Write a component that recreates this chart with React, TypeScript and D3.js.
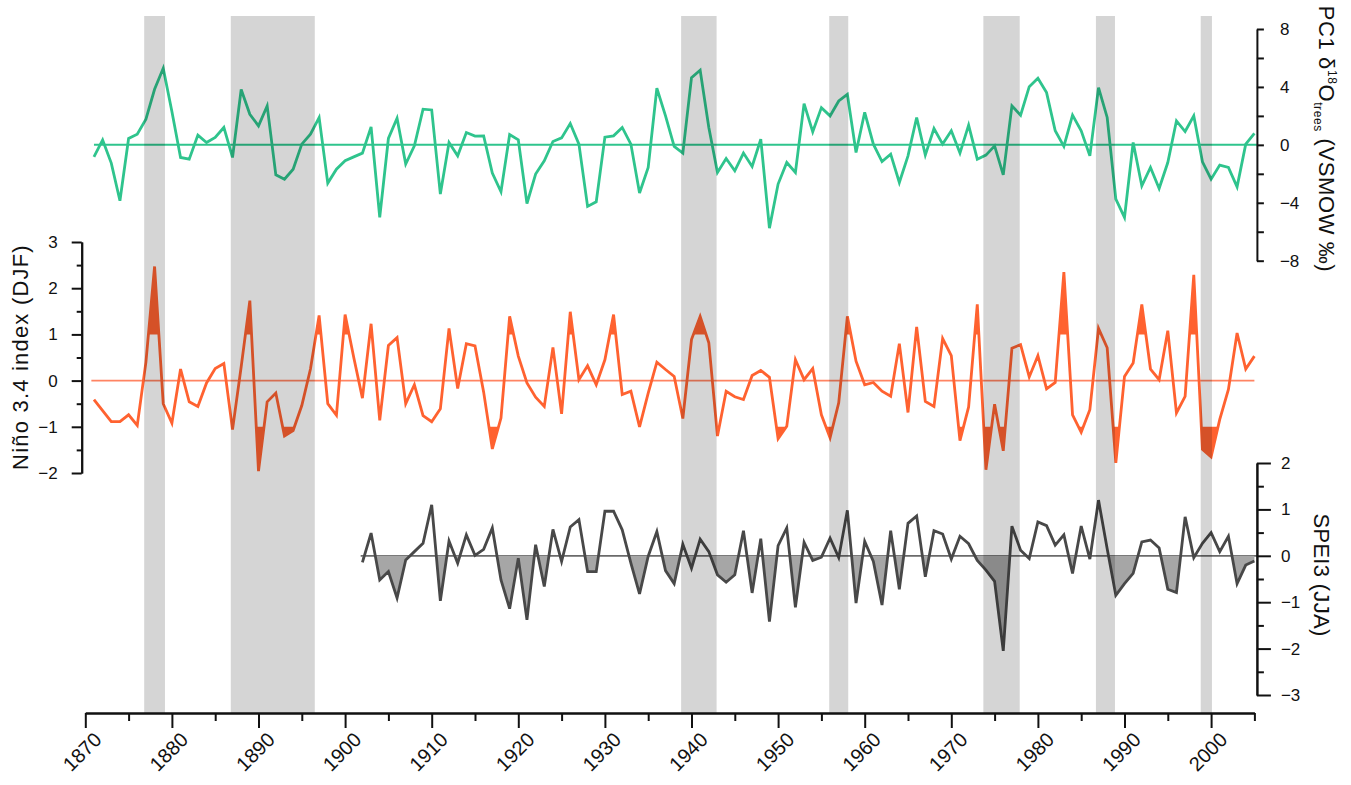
import * as d3 from "d3";
import React, { useEffect, useRef } from "react";

const W = 1351;
const H = 785;

// PC1 d18O trees, one value per year from 1871
const pc1Start = 1871;
const pc1Values = [
  -0.83, 0.34, -1.26, -3.86, 0.44, 0.74, 1.77, 3.84, 5.29, 2.3,
  -0.87, -0.99, 0.67, 0.16, 0.51, 1.2, -0.87, 3.82, 2.11, 1.31,
  2.69, -2.07, -2.37, -1.68, 0.05, 0.74, 1.89, -2.64, -1.68, -1.1,
  -0.83, -0.57, 1.24, -5.0, 0.44, 1.84, -1.33, -0.07, 2.46, 2.41,
  -3.4, 0.16, -0.76, 0.85, 0.6, 0.62, -1.95, -3.24, 0.71, 0.34,
  -4.05, -2.02, -1.1, 0.23, 0.48, 1.47, 0.05, -4.25, -3.93, 0.53,
  0.62, 1.2, 0.05, -3.33, -1.56, 3.91, 2.0, -0.11, -0.57, 4.64,
  5.15, 1.2, -1.91, -0.94, -1.79, -0.57, -1.49, 0.39, -5.75, -2.71,
  -1.22, -1.91, 2.85, 0.9, 2.57, 2.0, 3.03, 3.49, -0.53, 2.25,
  0.05, -1.15, -0.64, -2.6, -0.76, 1.89, -0.71, 1.13, 0.05, 0.97,
  -0.57, 1.36, -0.99, -0.71, -0.07, -2.07, 2.69, 2.05, 4.02, 4.6,
  3.61, 0.97, -0.11, 2.05, 0.97, -0.76, 3.95, 1.89, -3.75, -5.01,
  0.16, -2.83, -1.56, -3.01, -1.22, 1.66, 0.92, 2.0, -1.17, -2.37,
  -1.4, -1.56, -2.9, 0.05, 0.8,
];

// Nino 3.4 index (DJF), from 1871
const ninoStart = 1871;
const ninoValues = [
  -0.41, -0.65, -0.89, -0.89, -0.74, -0.97, 0.4, 2.47, -0.5, -0.92,
  0.25, -0.46, -0.56, -0.05, 0.26, 0.37, -1.06, 0.3, 1.73, -1.96,
  -0.46, -0.27, -1.2, -1.08, -0.54, 0.25, 1.41, -0.5, -0.75, 1.43,
  0.5, -0.38, 1.23, -0.86, 0.76, 0.93, -0.5, -0.09, -0.76, -0.89,
  -0.61, 1.13, -0.17, 0.8, 0.75, -0.25, -1.48, -0.81, 1.39, 0.53,
  -0.05, -0.36, -0.56, 0.72, -0.72, 1.49, 0.02, 0.32, -0.09, 0.45,
  1.43, -0.3, -0.23, -1.0, -0.27, 0.4, 0.24, 0.09, -0.82, 0.89,
  1.39, 0.82, -1.2, -0.23, -0.35, -0.41, 0.11, 0.22, 0.07, -1.26,
  -0.99, 0.45, 0.02, 0.26, -0.74, -1.24, -0.48, 1.39, 0.42, -0.09,
  -0.04, -0.23, -0.34, 0.8, -0.69, 1.16, -0.45, -0.56, 0.91, 0.54,
  -1.3, -0.57, 1.65, -1.93, -0.51, -1.52, 0.7, 0.78, 0.08, 0.54,
  -0.18, -0.04, 2.35, -0.74, -1.12, -0.63, 1.13, 0.71, -1.78, 0.09,
  0.38, 1.65, 0.25, 0.02, 1.08, -0.7, -0.34, 2.29, -1.49, -1.65,
  -0.84, -0.19, 1.03, 0.25, 0.53,
];

// SPEI3 (JJA), from 1902
const speiStart = 1902;
const speiValues = [
  -0.14, 0.49, -0.52, -0.34, -0.91, -0.09, 0.09, 0.27, 1.1, -0.97,
  0.32, -0.16, 0.45, 0.01, 0.14, 0.6, -0.52, -1.14, -0.05, -1.38,
  0.24, -0.66, 0.57, -0.12, 0.62, 0.78, -0.34, -0.34, 0.96, 0.96,
  0.56, -0.16, -0.82, -0.01, 0.52, -0.32, -0.6, 0.25, -0.27, 0.36,
  0.09, -0.41, -0.57, -0.41, 0.54, -0.8, 0.37, -1.42, 0.22, 0.6,
  -1.11, 0.29, -0.1, -0.03, 0.38, -0.04, 0.98, -1.02, 0.31, -0.12,
  -1.06, 0.54, -0.72, 0.7, 0.86, -0.45, 0.54, 0.47, -0.07, 0.42,
  0.26, -0.1, -0.31, -0.55, -2.05, 0.64, 0.12, -0.06, 0.73, 0.65,
  0.23, 0.45, -0.38, 0.64, -0.07, 1.2, 0.15, -0.85, -0.6, -0.38,
  0.3, 0.34, 0.17, -0.72, -0.79, 0.84, -0.04, 0.27, 0.5, 0.09,
  0.42, -0.6, -0.2, -0.11,
];

// shaded periods
const bandStarts = [1876.8, 1886.8, 1938.8, 1955.9, 1973.7, 1986.7, 1998.8];
const bandEnds = [1879.2, 1896.5, 1942.9, 1958.1, 1977.9, 1988.9, 2000.1];

const decadeTicks = [1870, 1880, 1890, 1900, 1910, 1920, 1930, 1940, 1950, 1960, 1970, 1980, 1990, 2000];
const halfDecadeTicks = [1875, 1885, 1895, 1905, 1915, 1925, 1935, 1945, 1955, 1965, 1975, 1985, 1995, 2005];
const pc1Ticks = [-8, -6, -4, -2, 0, 2, 4, 6, 8];
const ninoTicks = [-2, -1, 0, 1, 2, 3];
const ninoMinorTicks = [-1.5, -0.5, 0.5, 1.5, 2.5];
const speiTicks = [-3, -2, -1, 0, 1, 2];
const speiMinorTicks = [-2.5, -1.5, -0.5, 0.5, 1.5];

const green = "#2fc48d";
const orange = "#ff6230";
const darkGray = "#484848";
const FONT = "'Liberation Sans', Arial, sans-serif";

type Pt = [number, number];

// add the points where the series crosses a threshold, so fills start exactly there
function withCrossings(pts: Pt[], t: number): Pt[] {
  const out: Pt[] = [];
  pts.forEach((p, i) => {
    out.push(p);
    const q = pts[i + 1];
    if (q && (p[1] - t) * (q[1] - t) < 0) {
      out.push([p[0] + ((t - p[1]) / (q[1] - p[1])) * (q[0] - p[0]), t]);
    }
  });
  return out;
}

export default function App() {
  const chartRef = useRef<SVGSVGElement | null>(null);

  useEffect(() => {
    if (!chartRef.current) return;
    const svg = d3.select(chartRef.current);
    svg.selectAll("*").remove();

    const x = d3.scaleLinear().domain([1870, 2005]).range([85.3, 1254.4]);
    const yPc = d3.scaleLinear().domain([-8, 8]).range([260.7, 29]);
    const yNino = d3.scaleLinear().domain([-2, 3]).range([473, 242]);
    const ySpei = d3.scaleLinear().domain([-3, 2]).range([695, 463]);
    const axisY = 713;
    const rightX = x(2005) + 2.5;

    const pc1 = pc1Values.map((v, i) => [pc1Start + i, v] as Pt);
    const nino = ninoValues.map((v, i) => [ninoStart + i, v] as Pt);
    const spei = speiValues.map((v, i) => [speiStart + i, v] as Pt);

    // zero lines
    svg.append("line")
      .attr("x1", x(1871)).attr("x2", rightX).attr("y1", yPc(0)).attr("y2", yPc(0))
      .attr("stroke", green).attr("stroke-width", 2);
    svg.append("line")
      .attr("x1", x(1870.7)).attr("x2", x(2005)).attr("y1", yNino(0)).attr("y2", yNino(0))
      .attr("stroke", "#ff8463").attr("stroke-width", 1.8);
    svg.append("line")
      .attr("x1", x(1901.8)).attr("x2", rightX).attr("y1", ySpei(0)).attr("y2", ySpei(0))
      .attr("stroke", "#6a6a6a").attr("stroke-width", 1.8);

    // fills beyond the thresholds
    const highArea = (y: d3.ScaleLinear<number, number>, t: number) => d3.area<Pt>()
      .x(d => x(d[0])).y0(y(t)).y1(d => y(Math.max(d[1], t)));
    const lowArea = (y: d3.ScaleLinear<number, number>, t: number) => d3.area<Pt>()
      .x(d => x(d[0])).y0(y(t)).y1(d => y(Math.min(d[1], t)));
    svg.append("path").attr("d", highArea(yNino, 1)(withCrossings(nino, 1)) as string).attr("fill", orange);
    svg.append("path").attr("d", lowArea(yNino, -1)(withCrossings(nino, -1)) as string).attr("fill", orange);
    svg.append("path").attr("d", lowArea(ySpei, 0)(withCrossings(spei, 0)) as string).attr("fill", "#a6a6a6");

    // series lines
    const line = (y: d3.ScaleLinear<number, number>) => d3.line<Pt>()
      .x(d => x(d[0])).y(d => y(d[1]));
    svg.append("path").attr("d", line(yPc)(pc1) as string)
      .attr("fill", "none").attr("stroke", green).attr("stroke-width", 2.8);
    svg.append("path").attr("d", line(yNino)(nino) as string)
      .attr("fill", "none").attr("stroke", orange).attr("stroke-width", 2.8);
    svg.append("path").attr("d", line(ySpei)(spei) as string)
      .attr("fill", "none").attr("stroke", darkGray).attr("stroke-width", 2.8);

    // shaded periods, laid over the series
    svg.append("g").selectAll("rect")
      .data(bandStarts.map((s, i) => [s, bandEnds[i]]))
      .join("rect")
      .attr("x", d => x(d[0]))
      .attr("width", d => x(d[1]) - x(d[0]))
      .attr("y", 16)
      .attr("height", axisY - 16)
      .attr("fill", "#000")
      .attr("fill-opacity", 0.165);

    const styleAxis = (g: d3.Selection<SVGGElement, unknown, null, undefined>, size: number) => {
      g.attr("font-family", FONT).attr("font-size", size);
      g.selectAll("path").attr("stroke", "#111").attr("stroke-width", 2);
      g.selectAll("line").attr("stroke", "#111").attr("stroke-width", 2);
      g.selectAll("text").attr("fill", "#111");
    };

    // x axis
    const xMinor = svg.append("g").attr("transform", `translate(0,${axisY})`)
      .call(d3.axisBottom(x).tickValues(halfDecadeTicks).tickSize(8).tickSizeOuter(0).tickFormat(() => ""));
    styleAxis(xMinor, 20);
    const xMajor = svg.append("g").attr("transform", `translate(0,${axisY})`)
      .call(d3.axisBottom(x).tickValues(decadeTicks).tickSize(15).tickSizeOuter(0).tickFormat(d3.format("d")));
    styleAxis(xMajor, 20);
    xMajor.selectAll("text")
      .attr("text-anchor", "end")
      .attr("y", 0).attr("dy", 0)
      .attr("transform", "translate(17,28) rotate(-45)");

    // Nino axis (left)
    const nMinor = svg.append("g").attr("transform", `translate(81.7,0)`)
      .call(d3.axisLeft(yNino).tickValues(ninoMinorTicks).tickSize(5).tickSizeOuter(0).tickFormat(() => ""));
    styleAxis(nMinor, 17);
    const nMajor = svg.append("g").attr("transform", `translate(81.7,0)`)
      .call(d3.axisLeft(yNino).tickValues(ninoTicks).tickSize(10).tickSizeOuter(0).tickPadding(14).tickFormat(d3.format("d")));
    styleAxis(nMajor, 17);

    // PC1 axis (right, top)
    const pAxis = svg.append("g").attr("transform", `translate(${rightX},0)`)
      .call(d3.axisRight(yPc).tickValues(pc1Ticks).tickSize(7).tickSizeOuter(0).tickPadding(16)
        .tickFormat(d => (+d % 4 === 0 ? d3.format("d")(+d) : "")));
    styleAxis(pAxis, 17);

    // SPEI axis (right, bottom)
    const sMinor = svg.append("g").attr("transform", `translate(${rightX},0)`)
      .call(d3.axisRight(ySpei).tickValues(speiMinorTicks).tickSize(7).tickSizeOuter(0).tickFormat(() => ""));
    styleAxis(sMinor, 17);
    const sMajor = svg.append("g").attr("transform", `translate(${rightX},0)`)
      .call(d3.axisRight(ySpei).tickValues(speiTicks).tickSize(14).tickSizeOuter(0).tickPadding(10).tickFormat(d3.format("d")));
    styleAxis(sMajor, 17);

    // axis titles
    svg.append("text")
      .attr("transform", "translate(27.5,357) rotate(-90)")
      .attr("text-anchor", "middle")
      .attr("font-family", FONT).attr("font-size", 22).attr("letter-spacing", 1.2).attr("fill", "#111")
      .text("Niño 3.4 index (DJF)");

    svg.append("text")
      .attr("transform", "translate(1314,575) rotate(90)")
      .attr("text-anchor", "middle")
      .attr("font-family", FONT).attr("font-size", 22).attr("letter-spacing", 0.3).attr("fill", "#111")
      .text("SPEI3 (JJA)");

    const pcTitle = svg.append("text")
      .attr("transform", "translate(1319,139) rotate(90)")
      .attr("text-anchor", "middle")
      .attr("font-family", FONT).attr("font-size", 22).attr("letter-spacing", 0.6).attr("fill", "#111");
    pcTitle.append("tspan").text("PC1 δ");
    pcTitle.append("tspan").attr("font-size", 12).attr("dy", -9).text("18");
    pcTitle.append("tspan").attr("dy", 9).text("O");
    pcTitle.append("tspan").attr("font-size", 12).attr("dy", 5).text("trees");
    pcTitle.append("tspan").attr("dy", -5).text(" (VSMOW ‰)");
  }, []);

  return (
    <svg ref={chartRef} width={W} height={H}
      style={{ position: "absolute", left: 0, top: 0, background: "#fff" }} />
  );
}
